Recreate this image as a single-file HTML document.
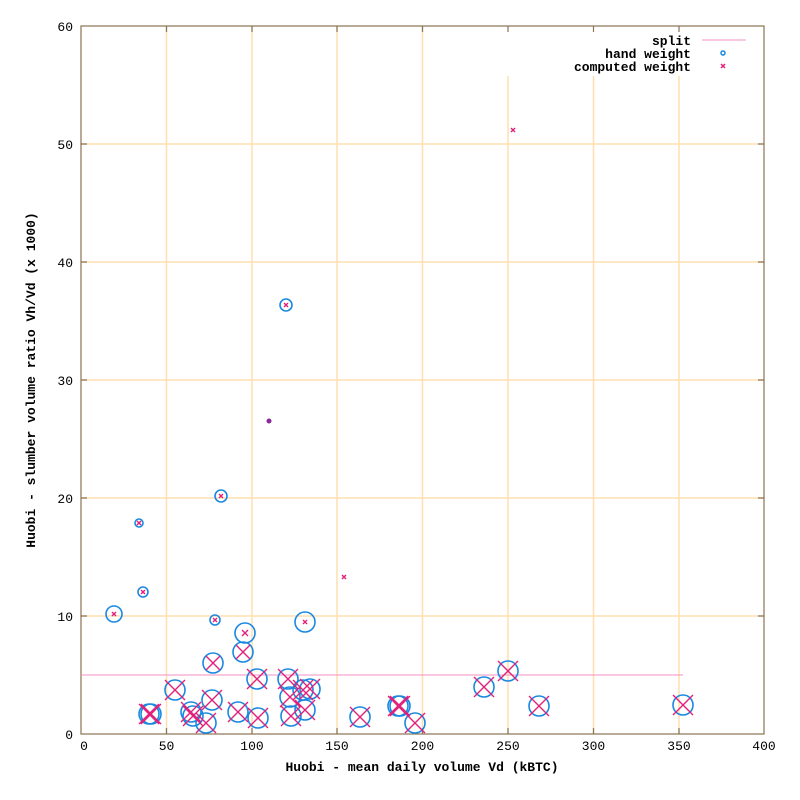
<!DOCTYPE html>
<html><head><meta charset="utf-8"><style>
html,body{margin:0;padding:0;background:#fff;width:800px;height:800px;overflow:hidden}
svg{display:block}
text{font-family:"Liberation Mono",monospace;font-size:13px;fill:#000}
</style></head><body>
<svg width="800" height="800" viewBox="0 0 800 800" xmlns="http://www.w3.org/2000/svg">
<g stroke="#ffdfb0" stroke-width="1.5">
<line x1="166.5" y1="26" x2="166.5" y2="734"/>
<line x1="252" y1="26" x2="252" y2="734"/>
<line x1="337" y1="26" x2="337" y2="734"/>
<line x1="422.5" y1="26" x2="422.5" y2="734"/>
<line x1="508" y1="76" x2="508" y2="734"/>
<line x1="593.5" y1="76" x2="593.5" y2="734"/>
<line x1="679" y1="76" x2="679" y2="734"/>
<line x1="81" y1="616" x2="764" y2="616"/>
<line x1="81" y1="498" x2="764" y2="498"/>
<line x1="81" y1="380" x2="764" y2="380"/>
<line x1="81" y1="262" x2="764" y2="262"/>
<line x1="81" y1="144" x2="764" y2="144"/>
</g>
<g stroke="#8b7355" stroke-width="1.2">
<rect x="81" y="26" width="683" height="708" fill="none"/>
<path d="M166.5 734v-6M252 734v-6M337 734v-6M422.5 734v-6M508 734v-6M593.5 734v-6M679 734v-6M166.5 26v6M252 26v6M337 26v6M422.5 26v6M508 26v6M593.5 26v6M679 26v6M81 616h6M81 498h6M81 380h6M81 262h6M81 144h6M764 616h-6M764 498h-6M764 380h-6M764 262h-6M764 144h-6"/>
</g>
<g text-anchor="end">
<text x="73" y="739">0</text><text x="73" y="621">10</text><text x="73" y="503">20</text><text x="73" y="385">30</text><text x="73" y="267">40</text><text x="73" y="149">50</text><text x="73" y="31">60</text>
</g>
<g text-anchor="middle">
<text x="84" y="750">0</text><text x="166.5" y="750">50</text><text x="252" y="750">100</text><text x="337" y="750">150</text><text x="422.5" y="750">200</text><text x="508" y="750">250</text><text x="593.5" y="750">300</text><text x="679" y="750">350</text><text x="764" y="750">400</text>
<text x="422" y="771" font-weight="bold">Huobi - mean daily volume Vd (kBTC)</text>
<text transform="translate(35,380) rotate(-90)" font-weight="bold">Huobi - slumber volume ratio Vh/Vd (x 1000)</text>
</g>
<g text-anchor="end" font-weight="bold">
<text x="691" y="45" font-weight="bold">split</text>
<text x="691" y="58" font-weight="bold">hand weight</text>
<text x="691" y="71" font-weight="bold">computed weight</text>
</g>
<line x1="702" y1="40" x2="746" y2="40" stroke="#f48fc0" stroke-width="1"/>
<circle cx="723" cy="53" r="2" fill="none" stroke="#1a88e0" stroke-width="1.5"/>
<path d="M721 64l4 4M725 64l-4 4" stroke="#e0207a" stroke-width="1.5"/>
<line x1="81" y1="675" x2="683" y2="675" stroke="#f48fc0" stroke-width="1"/>
<g fill="none" stroke="#1a88e0" stroke-width="1.6">
<circle cx="286" cy="305" r="6"/><circle cx="221" cy="496" r="6"/><circle cx="139" cy="523" r="4"/><circle cx="143" cy="592" r="5"/><circle cx="114" cy="614" r="8"/><circle cx="215" cy="620" r="5"/>
<circle cx="305" cy="622" r="10"/><circle cx="245" cy="633" r="10"/><circle cx="243" cy="652" r="10"/><circle cx="213" cy="663" r="10"/><circle cx="257" cy="679" r="10"/><circle cx="288" cy="679" r="10"/><circle cx="175" cy="690" r="10"/>
<circle cx="149" cy="714" r="10"/><circle cx="151" cy="714" r="10"/><circle cx="191" cy="712" r="10"/><circle cx="193" cy="716" r="10"/><circle cx="212" cy="700" r="10"/><circle cx="206" cy="723" r="10"/><circle cx="238" cy="712" r="10"/><circle cx="258" cy="718" r="10"/>
<circle cx="290" cy="697" r="10"/><circle cx="291" cy="716" r="10"/><circle cx="305" cy="710" r="10"/><circle cx="303" cy="690" r="10"/><circle cx="310" cy="689" r="10"/>
<circle cx="360" cy="717" r="10"/><circle cx="398" cy="706" r="10"/><circle cx="400" cy="706" r="10"/><circle cx="415" cy="723" r="10"/><circle cx="484" cy="687" r="10"/><circle cx="508" cy="671" r="10"/><circle cx="539" cy="706" r="10"/><circle cx="683" cy="705" r="10"/>
</g>
<circle cx="269" cy="421" r="2.5" fill="#8a2a9a"/>
<g stroke="#e0207a" stroke-width="1.4" fill="none">
<path d="M284 303l4 4M288 303l-4 4M219 494l4 4M223 494l-4 4M137 521l4 4M141 521l-4 4M141 590l4 4M145 590l-4 4M112 612l4 4M116 612l-4 4M213 618l4 4M217 618l-4 4M303 620l4 4M307 620l-4 4M342 575l4 4M346 575l-4 4M511 128l4 4M515 128l-4 4"/>
<path d="M242 630l6 6M248 630l-6 6"/>
<path d="M236 645l14 14M250 645l-14 14M206 656l14 14M220 656l-14 14"/>
<path d="M247 669l20 20M267 669l-20 20M278 669l20 20M298 669l-20 20M165 680l20 20M185 680l-20 20M139 704l20 20M159 704l-20 20M141 704l20 20M161 704l-20 20M181 702l20 20M201 702l-20 20M183 706l20 20M203 706l-20 20M202 690l20 20M222 690l-20 20M196 713l20 20M216 713l-20 20M228 702l20 20M248 702l-20 20M248 708l20 20M268 708l-20 20"/>
<path d="M280 687l20 20M300 687l-20 20M281 706l20 20M301 706l-20 20M295 700l20 20M315 700l-20 20M293 680l20 20M313 680l-20 20M300 679l20 20M320 679l-20 20"/>
<path d="M350 707l20 20M370 707l-20 20M388 696l20 20M408 696l-20 20M390 696l20 20M410 696l-20 20M405 713l20 20M425 713l-20 20M474 677l20 20M494 677l-20 20M498 661l20 20M518 661l-20 20M529 696l20 20M549 696l-20 20M673 695l20 20M693 695l-20 20"/>
</g>
</svg>
</body></html>
